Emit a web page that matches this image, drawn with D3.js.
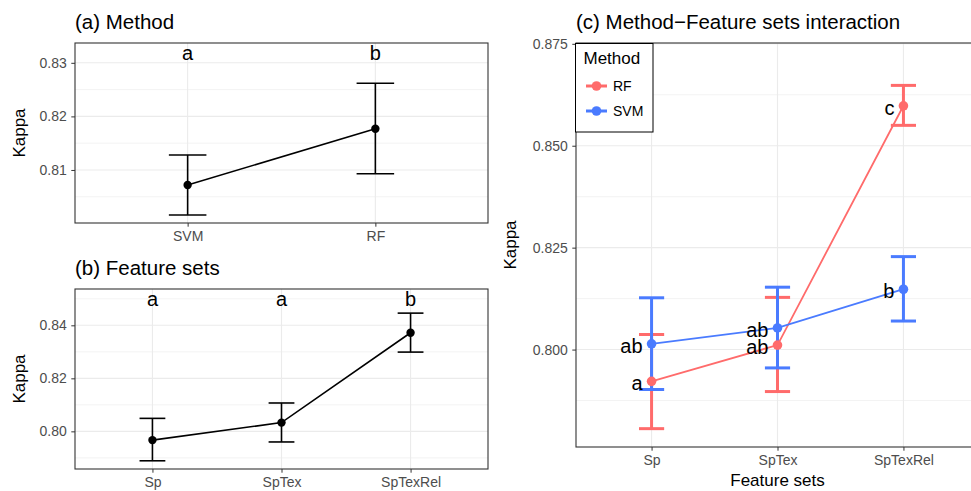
<!DOCTYPE html>
<head>
  <style>
    body { margin: 0; background: #fff; }
    text { font-family: "Liberation Sans", Arial, sans-serif; }
  </style>
  <title>Kappa by method and feature sets</title>
</head>
<body>
  <script src="https://cdn.jsdelivr.net/npm/d3@7"></script>
  <script>
    // ---- data ----
    var methods = ["SVM", "RF"];
    var methodMean = [0.8072, 0.8177];
    var methodLower = [0.8016, 0.8093];
    var methodUpper = [0.8128, 0.8262];
    var methodLetters = ["a", "b"];
    var methodTicks = [0.81, 0.82, 0.83];

    var featureSets = ["Sp", "SpTex", "SpTexRel"];
    var featureMean = [0.7967, 0.8033, 0.8372];
    var featureLower = [0.7889, 0.7960, 0.8299];
    var featureUpper = [0.8049, 0.8107, 0.8446];
    var featureLetters = ["a", "a", "b"];
    var featureTicks = [0.80, 0.82, 0.84];

    var rfMean = [0.7922, 0.8011, 0.8598];
    var rfLower = [0.7806, 0.7897, 0.8550];
    var rfUpper = [0.8037, 0.8128, 0.8648];
    var rfLetters = ["a", "ab", "c"];
    var svmMean = [0.8014, 0.8053, 0.8148];
    var svmLower = [0.7902, 0.7955, 0.8070];
    var svmUpper = [0.8127, 0.8153, 0.8228];
    var svmLetters = ["ab", "ab", "b"];
    var interTicks = [0.800, 0.825, 0.850, 0.875];

    var legendNames = ["RF", "SVM"];
    var legendColors = ["#ff6b6b", "#4a7bff"];

    var width = 971;
    var height = 491;
    var grid = "#ebebeb";
    var border = "#333333";

    var svg = d3.select("body").append("svg")
      .attr("width", width)
      .attr("height", height);

    // builds a panel frame (grid, axes, border) and returns its scales
    function panel(p) {
      var x = d3.scalePoint().domain(p.cats).range([p.left, p.right]).padding(0.6);
      var y = d3.scaleLinear().domain(p.domain).range([p.bottom, p.top]);
      var g = svg.append("g");

      // minor grid: halfway between major ticks
      var step = p.ticks[1] - p.ticks[0];
      var minor = [p.ticks[0] - step / 2].concat(p.ticks.map(function (t) { return t + step / 2; }))
        .filter(function (v) { return v > p.domain[0] && v < p.domain[1]; });
      g.selectAll(".minor").data(minor).enter().append("line")
        .attr("x1", p.left).attr("x2", p.right)
        .attr("y1", function (d) { return y(d); }).attr("y2", function (d) { return y(d); })
        .attr("stroke", grid).attr("stroke-width", 0.6);
      g.selectAll(".major").data(p.ticks).enter().append("line")
        .attr("x1", p.left).attr("x2", p.right)
        .attr("y1", function (d) { return y(d); }).attr("y2", function (d) { return y(d); })
        .attr("stroke", grid).attr("stroke-width", 1.1);
      g.selectAll(".vmajor").data(p.cats).enter().append("line")
        .attr("x1", function (d) { return x(d); }).attr("x2", function (d) { return x(d); })
        .attr("y1", p.top).attr("y2", p.bottom)
        .attr("stroke", grid).attr("stroke-width", 1.1);

      // axes
      var yAxis = d3.axisLeft(y).tickValues(p.ticks).tickSize(3.7).tickPadding(4.5)
        .tickFormat(d3.format(p.fmt));
      var ya = g.append("g").attr("transform", "translate(" + p.left + ",0)").call(yAxis);
      var xAxis = d3.axisBottom(x).tickSize(3.7).tickPadding(4);
      var xa = g.append("g").attr("transform", "translate(0," + p.bottom + ")").call(xAxis);
      [ya, xa].forEach(function (a) {
        a.select(".domain").remove();
        a.selectAll("line").attr("stroke", border).attr("stroke-width", 1);
        a.selectAll("text").attr("fill", "#4d4d4d").style("font-size", "14px")
          .style("font-family", "'Liberation Sans', Arial, sans-serif");
      });

      g.append("rect")
        .attr("x", p.left).attr("y", p.top)
        .attr("width", p.right - p.left).attr("height", p.bottom - p.top)
        .attr("fill", "none").attr("stroke", border).attr("stroke-width", 1.1);

      // titles
      svg.append("text").attr("x", p.left).attr("y", p.top - 14)
        .style("font-size", "20.5px").text(p.title);
      svg.append("text")
        .attr("transform", "translate(" + p.ylabX + "," + ((p.top + p.bottom) / 2) + ") rotate(-90)")
        .attr("text-anchor", "middle")
        .style("font-size", "17px").text("Kappa");

      return { x: x, y: y, step: x.step() };
    }

    // simple mean +- interval plot used in (a) and (b)
    function meanPlot(s, cats, mean, lower, upper, letters, top) {
      var rows = cats.map(function (c, i) {
        return { c: c, m: mean[i], lo: lower[i], hi: upper[i], l: letters[i] };
      });
      var cap = s.step * 0.2 / 2;
      svg.append("path").datum(rows)
        .attr("fill", "none").attr("stroke", "#000").attr("stroke-width", 1.6)
        .attr("d", d3.line().x(function (d) { return s.x(d.c); }).y(function (d) { return s.y(d.m); }));
      var eb = svg.append("g").selectAll("g").data(rows).enter().append("g")
        .attr("stroke", "#000").attr("stroke-width", 1.6);
      eb.append("line")
        .attr("x1", function (d) { return s.x(d.c); }).attr("x2", function (d) { return s.x(d.c); })
        .attr("y1", function (d) { return s.y(d.lo); }).attr("y2", function (d) { return s.y(d.hi); });
      eb.append("line")
        .attr("x1", function (d) { return s.x(d.c) - cap; }).attr("x2", function (d) { return s.x(d.c) + cap; })
        .attr("y1", function (d) { return s.y(d.lo); }).attr("y2", function (d) { return s.y(d.lo); });
      eb.append("line")
        .attr("x1", function (d) { return s.x(d.c) - cap; }).attr("x2", function (d) { return s.x(d.c) + cap; })
        .attr("y1", function (d) { return s.y(d.hi); }).attr("y2", function (d) { return s.y(d.hi); });
      svg.append("g").selectAll("circle").data(rows).enter().append("circle")
        .attr("cx", function (d) { return s.x(d.c); })
        .attr("cy", function (d) { return s.y(d.m); })
        .attr("r", 4.2).attr("fill", "#000");
      svg.append("g").selectAll("text").data(rows).enter().append("text")
        .attr("x", function (d) { return s.x(d.c); })
        .attr("y", top + 10)
        .attr("dy", "0.35em")
        .attr("text-anchor", "middle")
        .style("font-size", "20px")
        .text(function (d) { return d.l; });
    }

    // (a) Method
    var sa = panel({ cats: methods, domain: [0.8001, 0.8337], ticks: methodTicks, fmt: ".2f",
      left: 75, right: 488, top: 43, bottom: 223, title: "(a) Method", ylabX: 25 });
    meanPlot(sa, methods, methodMean, methodLower, methodUpper, methodLetters, 43);

    // (b) Feature sets
    var sb = panel({ cats: featureSets, domain: [0.7858, 0.8537], ticks: featureTicks, fmt: ".2f",
      left: 75, right: 488, top: 289, bottom: 469, title: "(b) Feature sets", ylabX: 25 });
    meanPlot(sb, featureSets, featureMean, featureLower, featureUpper, featureLetters, 289);

    // (c) interaction, the right edge runs past the window
    var sc = panel({ cats: featureSets, domain: [0.7761, 0.8752], ticks: interTicks, fmt: ".3f",
      left: 576, right: 979, top: 43, bottom: 447, title: "(c) Method\u2212Feature sets interaction", ylabX: 516 });

    svg.append("text")
      .attr("x", sc.x("SpTex")).attr("y", 486)
      .attr("text-anchor", "middle")
      .style("font-size", "17px").text("Feature sets");

    var groups = [
      { name: "RF", color: legendColors[0], m: rfMean, lo: rfLower, hi: rfUpper, l: rfLetters },
      { name: "SVM", color: legendColors[1], m: svmMean, lo: svmLower, hi: svmUpper, l: svmLetters }
    ];
    groups.forEach(function (gr) {
      gr.rows = featureSets.map(function (c, i) {
        return { c: c, m: gr.m[i], lo: gr.lo[i], hi: gr.hi[i], l: gr.l[i] };
      });
    });
    var capC = sc.step * 0.2 / 2;

    // lines
    groups.forEach(function (gr) {
      svg.append("path").datum(gr.rows)
        .attr("fill", "none").attr("stroke", gr.color).attr("stroke-width", 1.8)
        .attr("d", d3.line().x(function (d) { return sc.x(d.c); }).y(function (d) { return sc.y(d.m); }));
    });
    // error bars
    groups.forEach(function (gr) {
      var eb = svg.append("g").selectAll("g").data(gr.rows).enter().append("g")
        .attr("stroke", gr.color).attr("stroke-width", 3);
      eb.append("line")
        .attr("x1", function (d) { return sc.x(d.c); }).attr("x2", function (d) { return sc.x(d.c); })
        .attr("y1", function (d) { return sc.y(d.lo); }).attr("y2", function (d) { return sc.y(d.hi); });
      eb.append("line")
        .attr("x1", function (d) { return sc.x(d.c) - capC; }).attr("x2", function (d) { return sc.x(d.c) + capC; })
        .attr("y1", function (d) { return sc.y(d.lo); }).attr("y2", function (d) { return sc.y(d.lo); });
      eb.append("line")
        .attr("x1", function (d) { return sc.x(d.c) - capC; }).attr("x2", function (d) { return sc.x(d.c) + capC; })
        .attr("y1", function (d) { return sc.y(d.hi); }).attr("y2", function (d) { return sc.y(d.hi); });
    });
    // points
    groups.forEach(function (gr) {
      svg.append("g").selectAll("circle").data(gr.rows).enter().append("circle")
        .attr("cx", function (d) { return sc.x(d.c); })
        .attr("cy", function (d) { return sc.y(d.m); })
        .attr("r", 4.8).attr("fill", gr.color);
    });
    // letters
    groups.forEach(function (gr) {
      svg.append("g").selectAll("text").data(gr.rows).enter().append("text")
        .attr("x", function (d) { return sc.x(d.c) - 9; })
        .attr("y", function (d) { return sc.y(d.m) + 2; })
        .attr("dy", "0.35em")
        .attr("text-anchor", "end")
        .style("font-size", "20px")
        .text(function (d) { return d.l; });
    });

    // legend inside the top-left corner of (c)
    var lg = svg.append("g").attr("transform", "translate(575.5,43.5)");
    lg.append("rect").attr("width", 77.5).attr("height", 88.5)
      .attr("fill", "#fff").attr("stroke", "#000").attr("stroke-width", 1);
    lg.append("text").attr("x", 8).attr("y", 20.5).style("font-size", "17px").text("Method");
    var keys = lg.selectAll(".key").data(legendNames).enter().append("g")
      .attr("transform", function (d, i) { return "translate(0," + (42.5 + i * 25) + ")"; });
    keys.append("line").attr("x1", 10.5).attr("x2", 31.5)
      .attr("stroke", function (d, i) { return legendColors[i]; }).attr("stroke-width", 3);
    keys.append("circle").attr("cx", 21).attr("r", 4.8)
      .attr("fill", function (d, i) { return legendColors[i]; });
    keys.append("text").attr("x", 37.5).attr("dy", "0.35em")
      .style("font-size", "14px").text(function (d) { return d; });
  </script>
</body>
